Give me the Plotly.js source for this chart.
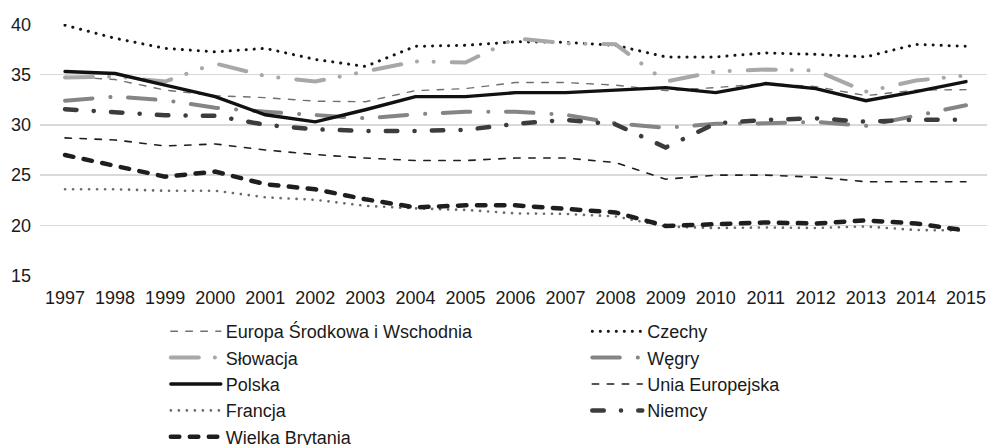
<!DOCTYPE html>
<html><head><meta charset="utf-8">
<script src="https://cdn.plot.ly/plotly-3.0.1.min.js"></script>
<style>
html,body{margin:0;padding:0;background:#fff;}
#chart{width:987px;height:445px;}
.scatterlayer .js-line, .legendlines path{stroke-linecap:round;}
</style></head>
<body><div id="chart"></div>
<script>
const years = ['1997','1998','1999','2000','2001','2002','2003','2004','2005','2006','2007','2008','2009','2010','2011','2012','2013','2014','2015'];
const esw      = [34.8, 34.5, 33.45, 32.9, 32.7, 32.35, 32.3, 33.4, 33.6, 34.2, 34.2, 33.95, 33.4, 33.7, 34.1, 33.8, 32.9, 33.45, 33.5];
const czechy   = [39.9, 38.6, 37.6, 37.25, 37.6, 36.5, 35.8, 37.8, 37.9, 38.25, 38.2, 37.9, 36.75, 36.75, 37.15, 37.0, 36.75, 38.0, 37.8];
const slowacja = [34.7, 34.8, 34.3, 36.1, 34.85, 34.3, 35.3, 36.3, 36.2, 38.6, 38.1, 38.0, 34.3, 35.3, 35.5, 35.4, 33.3, 34.4, 34.9];
const wegry    = [32.4, 32.8, 32.45, 31.7, 31.3, 31.0, 30.65, 31.05, 31.3, 31.3, 31.0, 30.15, 29.7, 30.1, 30.15, 30.3, 29.9, 30.9, 31.95];
const polska   = [35.3, 35.1, 33.95, 32.8, 31.0, 30.3, 31.5, 32.8, 32.8, 33.2, 33.2, 33.45, 33.7, 33.2, 34.1, 33.6, 32.4, 33.3, 34.3];
const ue       = [28.7, 28.5, 27.9, 28.1, 27.5, 27.05, 26.7, 26.45, 26.45, 26.7, 26.7, 26.25, 24.6, 25.0, 25.0, 24.8, 24.35, 24.35, 24.35];
const francja  = [23.6, 23.6, 23.45, 23.45, 22.8, 22.55, 21.95, 21.7, 21.55, 21.2, 21.15, 20.9, 19.9, 19.75, 19.8, 19.75, 19.9, 19.55, 19.5];
const niemcy   = [31.55, 31.3, 30.95, 30.9, 30.0, 29.55, 29.4, 29.4, 29.5, 30.1, 30.5, 30.05, 27.75, 30.15, 30.5, 30.65, 30.3, 30.5, 30.5];
const wb       = [27.0, 25.95, 24.85, 25.35, 24.1, 23.6, 22.6, 21.8, 22.0, 22.0, 21.65, 21.3, 19.95, 20.1, 20.3, 20.2, 20.5, 20.2, 19.5];
const names = ['Europa Środkowa i Wschodnia','Czechy','Słowacja','Węgry','Polska','Unia Europejska','Francja','Niemcy','Wielka Brytania'];

const FONT = '"Liberation Sans", Arimo, Arial, sans-serif';
function tr(name, y, color, width, dash, leg){
  return {type:'scatter', mode:'lines', x:years, y:y, name:name, legend:leg,
    line:{color:color, width:width, dash:dash}, hoverinfo:'skip'};
}
const data = [
  tr(names[0], esw, '#707070', 1.4, '6.6px,8.4px', 'legend'),
  tr(names[1], czechy, '#141414', 3, '0.1px,7.9px', 'legend2'),
  tr(names[2], slowacja, '#a8a8a8', 4, '28px,16px,0.1px,16.6px,0.1px,18px', 'legend'),
  tr(names[3], wegry, '#858585', 4, '27.5px,18px,0.1px,17.6px', 'legend2'),
  tr(names[4], polska, '#111111', 3.4, 'solid', 'legend'),
  tr(names[5], ue, '#1e1e1e', 1.6, '6.4px,8.6px', 'legend2'),
  tr(names[6], francja, '#6a6a6a', 2.6, '0.1px,7.9px', 'legend'),
  tr(names[7], niemcy, '#3c3c3c', 4.5, '11.5px,17.2px,0.1px,17.2px', 'legend2'),
  tr(names[8], wb, '#1e1e1e', 4.5, '8.5px,10.5px', 'legend')
];
const legCommon = {orientation:'v', xref:'container', yref:'container', y:0.2966, xanchor:'left', yanchor:'top',
    itemwidth:50, tracegroupgap:0, font:{size:18, family:FONT, color:'#1a1a1a'}, bgcolor:'rgba(0,0,0,0)', traceorder:'normal'};
const layout = {
  width:987, height:445,
  margin:{l:40, r:0, t:24, b:169, pad:0, autoexpand:false},
  paper_bgcolor:'#fff', plot_bgcolor:'#fff',
  font:{family:FONT, color:'#1a1a1a', size:18},
  showlegend:true,
  xaxis:{type:'category', range:[-0.5, 18.42], showgrid:false, zeroline:false, showline:false, tickangle:0,
    ticks:'', tickfont:{size:18, family:FONT, color:'#1a1a1a'}, ticklabelstandoff:9, fixedrange:true, automargin:false},
  yaxis:{range:[14.98, 40.02], tickvals:[15,20,25,30,35,40], ticktext:['15','20','25','30','35','40'],
    showgrid:true, gridcolor:'#d9d9d9', gridwidth:1.4, zeroline:false, showline:false,
    ticks:'', tickfont:{size:18, family:FONT, color:'#1a1a1a'}, ticklabelstandoff:8, fixedrange:true, automargin:false},
  legend:Object.assign({}, legCommon, {x:0.168}),
  legend2:Object.assign({}, legCommon, {x:0.595})
};
Plotly.newPlot('chart', data, layout, {staticPlot:true, displayModeBar:false});
</script></body></html>
